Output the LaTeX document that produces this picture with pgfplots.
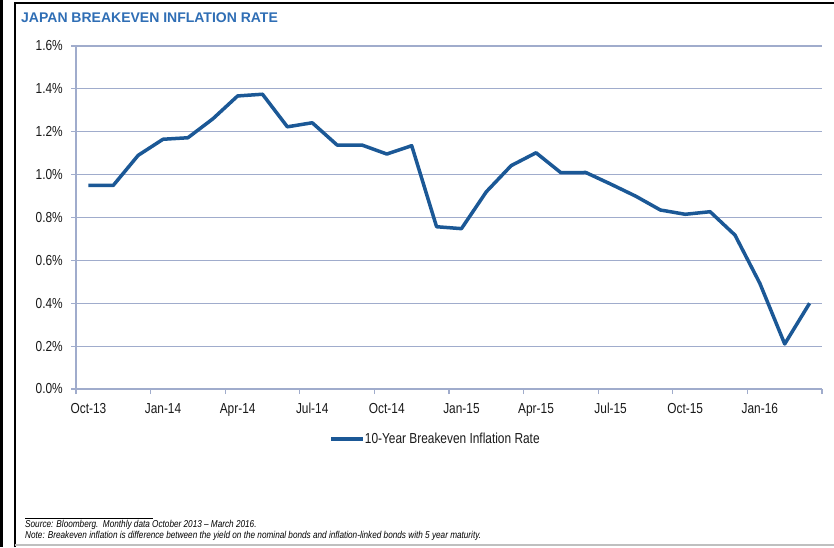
\documentclass[border=0pt]{standalone}
\usepackage{fontspec}
\setmainfont{Liberation Sans}
\newfontfamily\narrow{Liberation Sans}[FakeStretch=0.82]
\usepackage{pgfplots}
\pgfplotsset{compat=1.18}
\definecolor{titleblue}{RGB}{47,110,181}
\definecolor{lineblue}{RGB}{27,88,150}
\definecolor{gridc}{RGB}{160,172,204}
\begin{document}
\begin{tikzpicture}[x=1pt,y=1pt]
\useasboundingbox (0,0) rectangle (834,547);
\fill[white] (0,0) rectangle (834,547);
% frame
\fill[black] (0,0) rectangle (3,547);
\draw[black,line width=2pt] (14.5,0) -- (14.5,544) -- (834,544);
\draw[black!25,line width=2pt] (14.5,2) -- (834,2);
% title
\node[anchor=base west,inner sep=0pt,text=titleblue,font=\bfseries\fontsize{14}{16}\selectfont] at (21,524) {JAPAN BREAKEVEN INFLATION RATE};
\begin{axis}[
  at={(76pt,158pt)}, anchor=south west,
  scale only axis, width=746pt, height=343pt,
  xmin=-0.5, xmax=29.5, ymin=0, ymax=1.6,
  axis lines=left, axis line style={-, draw=gridc, line width=1.2pt},
  ymajorgrids, grid style={draw=gridc, line width=1.2pt},
  ytick={0,0.2,...,1.6},
  yticklabels={0.0\%,0.2\%,0.4\%,0.6\%,0.8\%,1.0\%,1.2\%,1.4\%,1.6\%},
  xtick={0,3,...,27},
  xticklabels={Oct-13,Jan-14,Apr-14,Jul-14,Oct-14,Jan-15,Apr-15,Jul-15,Oct-15,Jan-16},
  minor xtick={-0.5,2.5,...,29.5},
  tick align=outside,
  major tick length=5pt, minor tick length=5pt,
  x tick style={draw=none}, xminorgrids=false,
  minor x tick style={draw=gridc, line width=1.2pt},
  y tick style={draw=gridc, line width=1.2pt},
  ticklabel style={font=\narrow\fontsize{14.5}{16}\selectfont, text=black!90},
  yticklabel style={anchor=east, inner sep=0pt, xshift=-8pt},
  xticklabel style={anchor=north, inner sep=0pt, yshift=-9pt},
  legend style={at={(0.4806,-0.1458)}, anchor=center, draw=none, fill=none, inner sep=0pt,
    font=\narrow\fontsize{14.5}{16}\selectfont,
    nodes={inner sep=0pt, text=black!90}},
  legend image code/.code={\draw[#1,line width=3.5pt] (0pt,0pt) -- (32pt,0pt);},
  clip=false,
]
\addplot[lineblue, line width=3.5pt, line join=round] coordinates {
(0,0.95) (1,0.95) (2,1.09) (3,1.165) (4,1.172) (5,1.26) (6,1.367) (7,1.375)
(8,1.223) (9,1.242) (10,1.138) (11,1.138) (12,1.096) (13,1.135) (14,0.757)
(15,0.748) (16,0.92) (17,1.042) (18,1.102) (19,1.009) (20,1.01) (21,0.956)
(22,0.90) (23,0.835) (24,0.815) (25,0.827) (26,0.718) (27,0.493) (28,0.21) (29,0.40)
};
\addlegendentry{10-Year Breakeven Inflation Rate}
\end{axis}
% footer
\draw[black,line width=1pt] (25,29) -- (153,29);
\node[anchor=base west,inner sep=0pt,font=\narrow\itshape\fontsize{10}{11}\selectfont] at (25,20) {Source: Bloomberg.\ \ Monthly data October 2013 – March 2016.};
\node[anchor=base west,inner sep=0pt,font=\narrow\itshape\fontsize{10}{11}\selectfont] at (25,9) {Note: Breakeven inflation is difference between the yield on the nominal bonds and inflation-linked bonds with 5 year maturity.};
\end{tikzpicture}
\end{document}
